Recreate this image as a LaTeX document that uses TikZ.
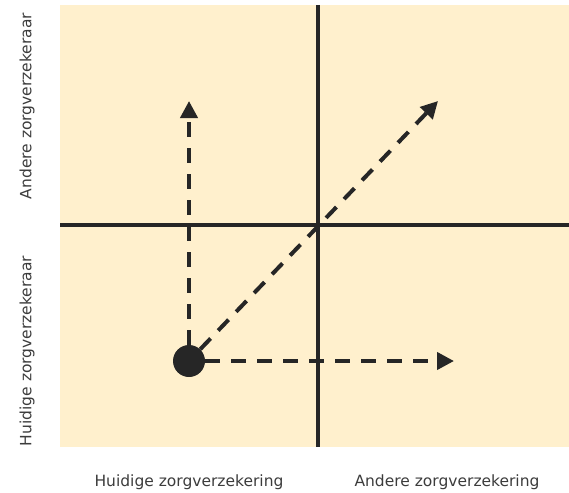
\documentclass[tikz,border=0pt]{standalone}
\usepackage{fontspec}
\setmainfont{DejaVu Sans}
\usetikzlibrary{arrows.meta,positioning}
\definecolor{paper}{RGB}{255,240,205}
\definecolor{ink}{RGB}{38,38,38}
\definecolor{txt}{RGB}{60,60,60}

\begin{document}
\begin{tikzpicture}[
  x=1pt,y=-1pt,
  >={Triangle[length=17pt,width=17pt]},
  axis/.style= {draw=ink,line width=3.5pt},
  move/.style= {draw=ink,line width=4pt,dash pattern=on 15pt off 11pt,->},
  axlabel/.style= {text=txt,inner sep=0pt,font=\fontsize{15.5}{18}\selectfont},
  here/.style= {circle,fill=ink,minimum size=32pt,inner sep=0pt}]
  \useasboundingbox (0,0) rectangle (569,492);
  \fill[paper] (60,5) rectangle (569,447);
  % axes
  \coordinate (top) at (318,5);
  \coordinate (bot) at (318,447);
  \coordinate (lft) at (60,225);
  \coordinate (rgt) at (569,225);
  \draw[axis] (top) -- (bot);
  \draw[axis] (lft) -- (rgt);
  % labels
  \node [axlabel,rotate=90] (yA) at (27,106) {Andere zorgverzekeraar};
  \node [axlabel,rotate=90] (yH) at (27,351) {Huidige zorgverzekeraar};
  \node [axlabel] (xH) at (189,482) {Huidige zorgverzekering};
  \node [axlabel] (xA) at (447,482) {Andere zorgverzekering};
  % current position and moves
  \node [here] (now) at (189,361) {};
  \coordinate (up) at (189,101);
  \coordinate (diag) at (438,101);
  \coordinate (side) at (454,361);
  \draw[move] (now) -- (up);
  \draw[move] (now) -- (diag);
  \draw[move] (now) -- (side);
\end{tikzpicture}
\end{document}
